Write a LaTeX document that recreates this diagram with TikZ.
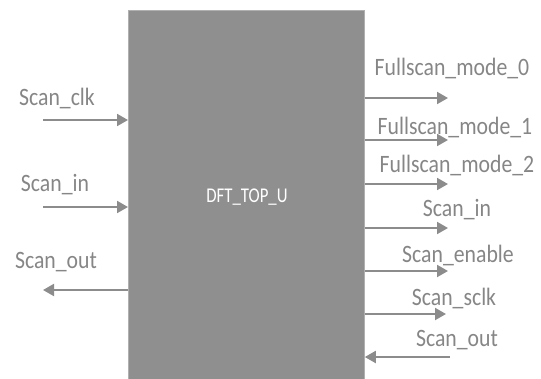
\documentclass[tikz,border=0pt]{standalone}
\usepackage{fontspec}
\setmainfont{Carlito}[FakeStretch=0.87]
\newfontfamily\namefont{Carlito}[FakeStretch=0.8]
\usetikzlibrary{arrows.meta}
\definecolor{boxgray}{HTML}{8F8F8F}
\definecolor{edgegray}{HTML}{B0B0B0}
\definecolor{wiregray}{HTML}{8C8C8C}
\definecolor{textgray}{HTML}{868686}
\begin{document}
\begin{tikzpicture}[x=1pt,y=-1pt,
  wire/.style={draw=wiregray,line width=2pt,-{Triangle[length=11pt,width=12pt]}},
  lbl/.style={text=textgray,font=\fontsize{25}{28}\selectfont,inner sep=0pt},
  blk/.style={draw=edgegray,line width=0.8pt,fill=boxgray,inner sep=0pt}]
\useasboundingbox (0,0) rectangle (541,378);
% the block
\node[blk,minimum width=236pt,minimum height=372pt,anchor=north west] (dft) at (128,10) {};
\node[text=white,font=\namefont\fontsize{21}{24}\selectfont,inner sep=0pt] (name) at (247,197) {DFT\_TOP\_U};
% left-side ports
\coordinate (clkL) at (43,120);
\coordinate (inL) at (43,207);
\coordinate (outL) at (43,290);
\draw[wire] (clkL) -- (clkL -| dft.west);
\draw[wire] (inL) -- (inL -| dft.west);
\draw[wire] (outL -| dft.west) -- (outL);
\node[lbl] (tclk) at (57,98) {Scan\_clk};
\node[lbl] (tin) at (55,185) {Scan\_in};
\node[lbl] (tout) at (56,262) {Scan\_out};
% right-side ports
\coordinate (fm0) at (448,98);
\coordinate (fm1) at (448,140);
\coordinate (fm2) at (448,184);
\coordinate (sinR) at (448,228);
\coordinate (senR) at (448,271);
\coordinate (sclkR) at (446,314);
\coordinate (soutR) at (450,357);
\draw[wire] (fm0 -| dft.east) -- (fm0);
\draw[wire] (fm1 -| dft.east) -- (fm1);
\draw[wire] (fm2 -| dft.east) -- (fm2);
\draw[wire] (sinR -| dft.east) -- (sinR);
\draw[wire] (senR -| dft.east) -- (senR);
\draw[wire] (sclkR -| dft.east) -- (sclkR);
\draw[wire] (soutR) -- (soutR -| dft.east);
\node[lbl] (tfm0) at (452,68) {Fullscan\_mode\_0};
\node[lbl] (tfm1) at (455,127) {Fullscan\_mode\_1};
\node[lbl] (tfm2) at (457,165) {Fullscan\_mode\_2};
\node[lbl] (tsin) at (457,210) {Scan\_in};
\node[lbl] (tsen) at (458,255) {Scan\_enable};
\node[lbl] (tsclk) at (454,298) {Scan\_sclk};
\node[lbl] (tsout) at (457,340) {Scan\_out};
\end{tikzpicture}
\end{document}
